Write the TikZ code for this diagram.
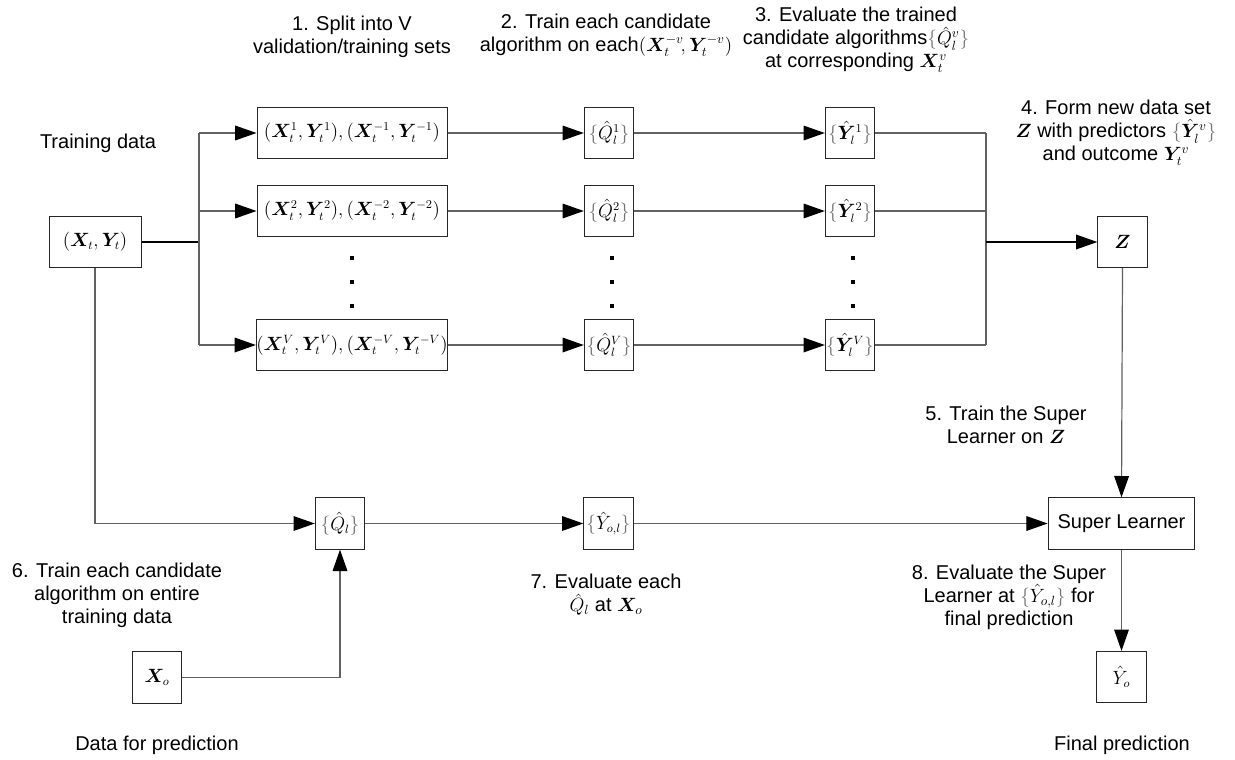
\documentclass[tikz,border=0pt]{standalone}
\usepackage{amsmath}
\usepackage{bm}
\usepackage[no-math]{fontspec}
\setmainfont{Liberation Sans}
\usetikzlibrary{arrows.meta}
\newcommand{\lbr}{{\color{black!55}\{}}
\newcommand{\rbr}{{\color{black!55}\}}}
\newcommand{\mm}[1]{{\fontsize{14.4}{16}\selectfont$#1$}}
\tikzset{
  bx/.style={draw=black!85, line width=0.75pt, inner sep=0pt, minimum height=38.5pt, fill=white, font=\fontsize{13.5}{15}\selectfont},
  ln/.style={draw=black!62, line width=0.9pt},
  lnk/.style={draw=black, line width=1.1pt},
  arr/.style={ln, -{Triangle[length=16pt,width=11pt,color=black]}},
  lbl/.style={align=center, inner sep=0pt, font=\fontsize{15}{17.25}\selectfont},
  dotn/.style={fill=black, inner sep=0pt, minimum size=2.4pt},
}
\begin{document}
\begin{tikzpicture}[x=0.75pt,y=-0.75pt]
\useasboundingbox (0,0) rectangle (1235,760);
% boxes
\node[bx, minimum width=69pt] (xt) at (95,242) {$\left(\bm{X}_t,\bm{Y}_t\right)$};
\node[bx, minimum width=142.5pt] (r1) at (352,133) {$(\bm{X}_t^1,\bm{Y}_t^1),(\bm{X}_t^{-1},\bm{Y}_t^{-1})$};
\node[bx, minimum width=142.5pt] (r2) at (352,211) {$(\bm{X}_t^2,\bm{Y}_t^2),(\bm{X}_t^{-2},\bm{Y}_t^{-2})$};
\node[bx, minimum width=142.5pt] (rV) at (352,345) {$(\bm{X}_t^V,\bm{Y}_t^V),(\bm{X}_t^{-V},\bm{Y}_t^{-V})$};
\node[bx, minimum width=37pt] (q1) at (609,133) {$\lbr\hat{Q}_l^1\rbr$};
\node[bx, minimum width=37pt] (q2) at (609,211) {$\lbr\hat{Q}_l^2\rbr$};
\node[bx, minimum width=37pt] (qV) at (609,345) {$\lbr\hat{Q}_l^V\rbr$};
\node[bx, minimum width=37pt] (y1) at (850,133) {$\lbr\hat{\bm{Y}}_l^1\rbr$};
\node[bx, minimum width=37pt] (y2) at (850,211) {$\lbr\hat{\bm{Y}}_l^2\rbr$};
\node[bx, minimum width=37pt] (yV) at (850,345) {$\lbr\hat{\bm{Y}}_l^V\rbr$};
\node[bx, minimum width=37pt] (z) at (1122.5,242) {$\bm{Z}$};
\node[bx, minimum width=110pt, font=\fontsize{15}{17}\selectfont] (sl) at (1121.5,523.5) {Super Learner};
\node[bx, minimum width=37pt] (yo) at (1121.5,677) {$\hat{Y}_o$};
\node[bx, minimum width=37pt] (ql) at (340,523.5) {$\lbr\hat{Q}_l\rbr$};
\node[bx, minimum width=37pt] (yol) at (608.5,523.5) {$\lbr\hat{Y}_{o,l}\rbr$};
\node[bx, minimum width=37pt] (xo) at (157,677.5) {$\bm{X}_o$};
% dots
\foreach \c/\x in {a/352,b/612,c/853}{
  \node[dotn] (d\c1) at (\x,258) {};
  \node[dotn] (d\c2) at (\x,282) {};
  \node[dotn] (d\c3) at (\x,306) {};
}
% coordinates
\coordinate (s0) at (199,242);
\coordinate (s1) at (199,133);
\coordinate (sV) at (199,345);
\coordinate (m0) at (986,242);
\coordinate (m1) at (986,133);
\coordinate (m2) at (986,211);
\coordinate (mV) at (986,345);
% connectors
\draw[lnk] (xt.east) -- (s0);
\draw[ln] (s1) -- (sV);
\draw[arr] (s1) -- (r1.west);
\draw[arr] (s0 |- r2.west) -- (r2.west);
\draw[arr] (sV) -- (rV.west);
\draw[arr] (r1.east) -- (q1.west);
\draw[arr] (r2.east) -- (q2.west);
\draw[arr] (rV.east) -- (qV.west);
\draw[arr] (q1.east) -- (y1.west);
\draw[arr] (q2.east) -- (y2.west);
\draw[arr] (qV.east) -- (yV.west);
\draw[ln] (y1.east) -- (m1);
\draw[ln] (y2.east) -- (m2);
\draw[ln] (yV.east) -- (mV);
\draw[ln] (m1) -- (mV);
\draw[lnk, -{Triangle[length=16pt,width=11pt,color=black]}] (m0) -- (z.west);
\draw[arr] (z.south) -- (sl.north);
\draw[arr] (xt.south) |- (ql.west);
\draw[arr] (xo.east) -| (ql.south);
\draw[arr] (ql.east) -- (yol.west);
\draw[arr] (yol.east) -- (sl.west);
\draw[arr] (sl.south) -- (yo.north);
% labels
\node[lbl] (ltd) at (98,143) {Training data};
\node[lbl] (l1) at (352,37) {1. Split into V\\validation/training sets};
\node[lbl] (l2) at (606,35) {2. Train each candidate\\algorithm on each\mm{(\bm{X}_t^{-v}\!,\bm{Y}_t^{-v})}};
\node[lbl] (l3) at (856,40) {3. Evaluate the trained\\candidate algorithms\mm{\lbr\hat{Q}_l^v\rbr}\\at corresponding \mm{\bm{X}_t^v}};
\node[lbl] (l4) at (1116,133) {4. Form new data set\\\mm{\bm{Z}} with predictors \mm{\lbr\hat{\bm{Y}}_l^v\rbr}\\and outcome \mm{\bm{Y}_t^v}};
\node[lbl] (l5) at (1006,425) {5. Train the Super\\Learner on \mm{\bm{Z}}};
\node[lbl] (l6) at (117,595) {6. Train each candidate\\algorithm on entire\\training data};
\node[lbl] (l7) at (606,595) {7. Evaluate each\\\mm{\hat{Q}_l} at \mm{\bm{X}_o}};
\node[lbl] (l8) at (1009,597) {8. Evaluate the Super\\Learner at \mm{\lbr\hat{Y}_{o,l}\rbr} for\\final prediction};
\node[lbl] (ldp) at (157,745) {Data for prediction};
\node[lbl] (lfp) at (1122,745) {Final prediction};
\end{tikzpicture}
\end{document}
